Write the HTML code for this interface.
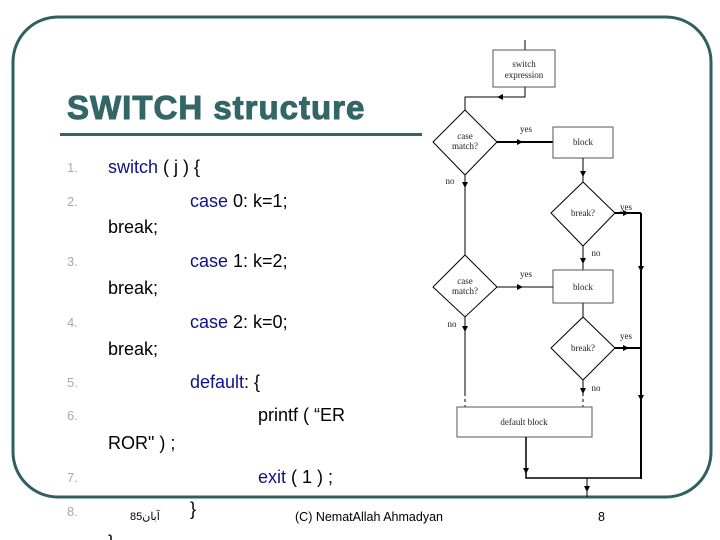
<!DOCTYPE html>
<html><head><meta charset="utf-8"><style>
html,body{margin:0;padding:0;background:#fff;}
svg{display:block;}
.n{font:13px "Liberation Sans",sans-serif;fill:#aaa;}
.c{font:18px "Liberation Sans",sans-serif;fill:#000;}
.b{fill:#10108a;}
.f{font:9px "Liberation Serif",serif;fill:#222;}
.t{font:bold 33px "Liberation Sans",sans-serif;fill:#336666;letter-spacing:1px;}
</style></head><body>
<svg width="720" height="540" viewBox="0 0 720 540" xmlns="http://www.w3.org/2000/svg">
<rect x="13" y="17" width="698" height="480" rx="45" fill="none" stroke="#2f6060" stroke-width="3"/>
<text class="t" x="67" y="119" stroke="#336666" stroke-width="1">SWITCH structure</text>
<rect x="60" y="133" width="362" height="3" fill="#336666"/>

<g class="n">
<text x="67" y="172">1.</text><text x="67" y="206">2.</text><text x="67" y="266">3.</text><text x="67" y="327">4.</text><text x="67" y="387">5.</text><text x="67" y="420">6.</text><text x="67" y="482">7.</text><text x="67" y="516">8.</text>
</g>
<g class="c">
<text x="108" y="173"><tspan class="b">switch</tspan> ( j ) {</text>
<text x="190" y="207"><tspan class="b">case</tspan>  0:  k=1;</text>
<text x="108" y="233">break;</text>
<text x="190" y="267"><tspan class="b">case</tspan>  1:  k=2;</text>
<text x="108" y="294">break;</text>
<text x="190" y="328"><tspan class="b">case</tspan>  2:  k=0;</text>
<text x="108" y="355">break;</text>
<text x="190" y="388"><tspan class="b">default</tspan>:  {</text>
<text x="258" y="421">printf ( “ER</text>
<text x="108" y="449">ROR" ) ;</text>
<text x="258" y="483"><tspan class="b">exit</tspan> ( 1 ) ;</text>
<text x="190" y="515">}</text>
<text x="108" y="548">}</text>
</g>
<text x="130" y="520" font-family="Liberation Sans,sans-serif" font-size="11" fill="#000">آبان85</text>
<text x="295" y="521" font-family="Liberation Sans,sans-serif" font-size="12.5" fill="#000">(C) NematAllah Ahmadyan</text>
<text x="598" y="521" font-family="Liberation Sans,sans-serif" font-size="12.5" fill="#000">8</text>

<g stroke="#000" fill="none" stroke-width="1">
<line x1="525" y1="40" x2="525" y2="50"/>
<rect x="493" y="50" width="62" height="37" fill="#fff" stroke="#555"/>
<polyline points="525,87 525,97 465,97 465,110"/>
<polygon points="465,110 497,142 465,175 433,142" fill="#fff"/>
<line x1="497" y1="142" x2="553" y2="142" stroke-width="2"/>
<rect x="553" y="127" width="60" height="31" fill="#fff" stroke="#555"/>
<line x1="583" y1="158" x2="583" y2="182"/>
<polygon points="583,182 615,213 583,246 551,213" fill="#fff"/>
<line x1="615" y1="213" x2="641" y2="213" stroke-width="2"/>
<line x1="641" y1="213" x2="641" y2="479" stroke-width="2"/>
<line x1="583" y1="246" x2="583" y2="270"/>
<rect x="553" y="270" width="60" height="33" fill="#fff" stroke="#555"/>
<line x1="465" y1="175" x2="465" y2="255"/>
<polygon points="465,255 497,287 465,317 433,287" fill="#fff"/>
<line x1="497" y1="287" x2="553" y2="287"/>
<line x1="583" y1="303" x2="583" y2="317"/>
<polygon points="583,317 615,348 583,380 551,348" fill="#fff"/>
<line x1="615" y1="348" x2="641" y2="348" stroke-width="2"/>
<line x1="583" y1="380" x2="583" y2="393"/>
<line x1="583" y1="393" x2="583" y2="407" stroke-dasharray="3,3"/>
<line x1="465" y1="317" x2="465" y2="393"/>
<line x1="465" y1="393" x2="465" y2="407" stroke-dasharray="3,3"/>
<rect x="457" y="407" width="135" height="30" fill="#fff" stroke="#555"/>
<polyline points="526,437 526,478 641,478" stroke-width="1.5"/>
<line x1="587" y1="478" x2="587" y2="497"/>
</g>
<g fill="#000">
<path d="M497,97 l6,-3 v6z"/>
<path d="M523,142 l-6,-3 v6z"/>
<path d="M523,287 l-6,-3 v6z"/>
<path d="M629,213 l-6,-3 v6z"/>
<path d="M629,348 l-6,-3 v6z"/>
<path d="M465,188 l-3,-6 h6z"/><path d="M465,332 l-3,-6 h6z"/>
<path d="M583,177 l-3,-6 h6z"/><path d="M583,264 l-3,-6 h6z"/><path d="M583,394 l-3,-6 h6z"/>
<path d="M641,272 l-3,-6 h6z"/><path d="M641,401 l-3,-6 h6z"/>
<path d="M526,474 l-3,-6 h6z"/><path d="M587,492 l-3,-6 h6z"/>
</g>
<g class="f" text-anchor="middle">
<text x="524" y="67">switch</text><text x="524" y="78">expression</text>
<text x="465" y="139">case</text><text x="465" y="149">match?</text>
<text x="583" y="145">block</text>
<text x="583" y="216">break?</text>
<text x="583" y="290">block</text>
<text x="465" y="284">case</text><text x="465" y="294">match?</text>
<text x="583" y="351">break?</text>
<text x="524" y="425">default block</text>
<text x="526" y="132">yes</text><text x="526" y="277">yes</text>
<text x="626" y="210">yes</text><text x="626" y="339">yes</text>
<text x="450" y="184">no</text><text x="452" y="327">no</text>
<text x="596" y="256">no</text><text x="596" y="391">no</text>
</g>
</svg>
</body></html>
